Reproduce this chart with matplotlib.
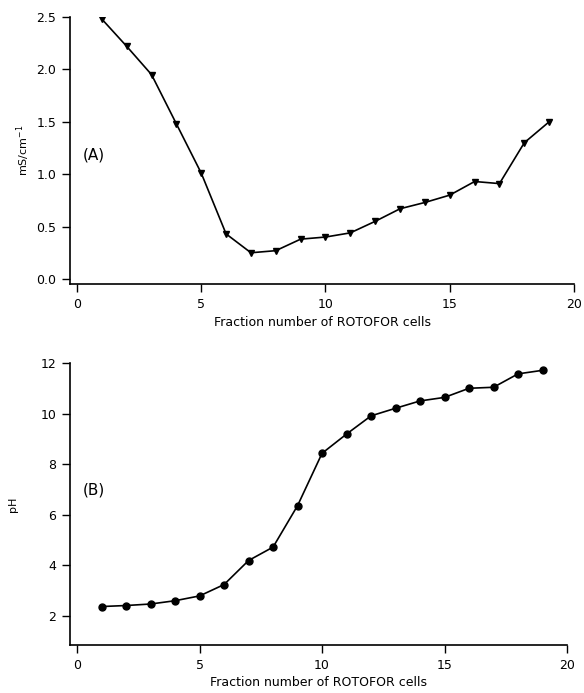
import matplotlib
matplotlib.use('Agg')
import matplotlib.pyplot as plt

fractions = list(range(1, 20))  # ROTOFOR cell fraction numbers
conductivity = [2.48, 2.22, 1.95, 1.48, 1.01, 0.43, 0.25, 0.27, 0.38, 0.40,
                0.44, 0.55, 0.67, 0.73, 0.80, 0.93, 0.91, 1.30, 1.50]  # mS/cm-1
ph = [2.37, 2.41, 2.47, 2.60, 2.79, 3.24, 4.19, 4.72, 6.36, 8.43,
      9.19, 9.91, 10.21, 10.50, 10.64, 11.00, 11.04, 11.57, 11.71]

plt.rcParams['font.family'] = 'DejaVu Sans'
plt.rcParams['font.size'] = 9

fig = plt.figure(figsize=(5.84, 6.93), dpi=100)

# panel A - conductivity
ax1 = fig.add_axes([0.1199, 0.5902, 0.8630, 0.3853])
ax1.plot(fractions, conductivity, color='black', lw=1.2, marker='v', ms=5)
ax1.set_xlim(-0.28, 20)
ax1.set_ylim(-0.048, 2.5)
ax1.set_xticks([0, 5, 10, 15, 20])
ax1.set_yticks([0.0, 0.5, 1.0, 1.5, 2.0, 2.5])
ax1.set_yticklabels(['0.0', '0.5', '1.0', '1.5', '2.0', '2.5'])
ax1.set_xlabel('Fraction number of ROTOFOR cells', labelpad=4)
ax1.set_ylabel('mS/cm$^{-1}$', fontsize=8, labelpad=3)
ax1.text(0.25, 1.18, '(A)', fontsize=11, ha='left', va='center')

# panel B - pH
ax2 = fig.add_axes([0.1199, 0.0693, 0.8510, 0.4069])
ax2.plot(fractions, ph, color='black', lw=1.2, marker='o', ms=5)
ax2.set_xlim(-0.29, 20)
ax2.set_ylim(0.85, 12)
ax2.set_xticks([0, 5, 10, 15, 20])
ax2.set_yticks([2, 4, 6, 8, 10, 12])
ax2.set_xlabel('Fraction number of ROTOFOR cells', labelpad=3)
ax2.set_ylabel('pH', fontsize=8, labelpad=16)
ax2.text(0.22, 6.98, '(B)', fontsize=11, ha='left', va='center')

for ax in (ax1, ax2):
    ax.spines['top'].set_visible(False)
    ax.spines['right'].set_visible(False)
    ax.spines['left'].set_linewidth(1.2)
    ax.spines['bottom'].set_linewidth(1.2)
    ax.tick_params(direction='out', length=6, width=1, pad=4, labelsize=9)

fig.savefig('out.png', dpi=100)
